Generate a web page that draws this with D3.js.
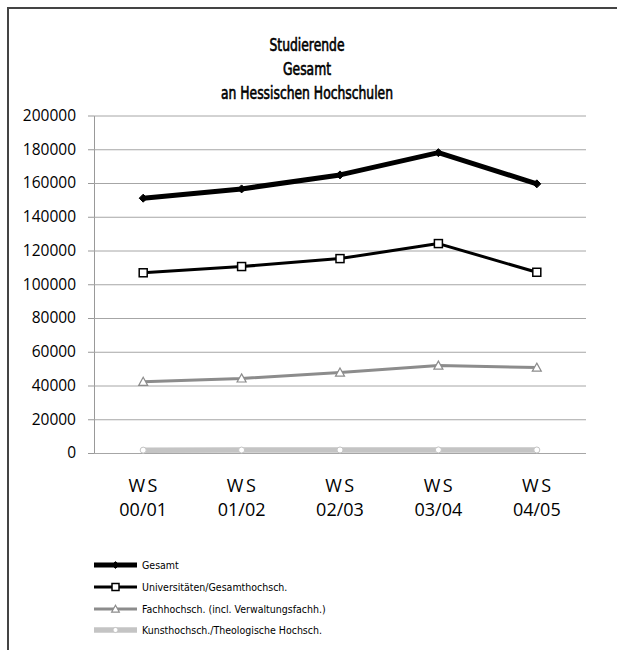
<!DOCTYPE html>
<html>
<head>
<meta charset="utf-8">
<script src="https://cdn.jsdelivr.net/npm/d3@7"></script>
<style>
  html, body { margin: 0; padding: 0; background: #fff; }
  svg { display: block; }
</style>
</head>
<body>
<svg id="chart" width="617" height="650"></svg>
<script>
// ---- Data ----
const titleLines = ["Studierende", "Gesamt", "an Hessischen Hochschulen"];
const categories = ["WS 00/01", "WS 01/02", "WS 02/03", "WS 03/04", "WS 04/05"];
const yTicks = [0, 20000, 40000, 60000, 80000, 100000, 120000, 140000, 160000, 180000, 200000];
const seriesNames = ["Gesamt", "Universitäten/Gesamthochsch.", "Fachhochsch. (incl. Verwaltungsfachh.)", "Kunsthochsch./Theologische Hochsch."];
const gesamt = [151000, 156500, 164800, 178000, 159500];
const universitaeten = [106800, 110500, 115200, 124100, 107100];
const fachhochschulen = [42200, 44200, 47700, 51800, 50600];
const kunsthochschulen = [1700, 1750, 1800, 1850, 1800];

// ---- Styles ----
const styles = [
  { color: "#000", width: 5, marker: "diamond", size: 4, fill: "#000", stroke: "#000" },
  { color: "#000", width: 3, marker: "square", size: 4, fill: "#fff", stroke: "#000" },
  { color: "#8c8c8c", width: 3, marker: "triangle", size: 4.5, fill: "#fff", stroke: "#8c8c8c" },
  { color: "#c4c4c4", width: 5.5, marker: "circle", size: 3, fill: "#fff", stroke: "#c4c4c4" }
];
const seriesValues = [gesamt, universitaeten, fachhochschulen, kunsthochschulen];

const svg = d3.select("#chart");

// Frame
svg.append("line").attr("x1", 7).attr("x2", 617).attr("y1", 8).attr("y2", 8)
  .attr("stroke", "#444").attr("stroke-width", 2);
svg.append("line").attr("x1", 8).attr("x2", 8).attr("y1", 7).attr("y2", 650)
  .attr("stroke", "#444").attr("stroke-width", 2);

// Title
const titleG = svg.append("g");
const titleTexts = titleLines.map((t, i) => titleG.append("text")
  .attr("text-anchor", "middle")
  .attr("x", 307).attr("y", 51 + i * 24)
  .attr("font-family", "'DejaVu Sans Condensed', 'DejaVu Sans', sans-serif")
  .attr("font-size", 17)
  .attr("fill", "#000")
  .attr("stroke", "#000")
  .attr("stroke-width", 0.6)
  .text(t));
// narrow the title to the reference width
const refW = titleTexts[2].node().getComputedTextLength();
const factor = 172 / refW;
titleTexts.forEach(tx => {
  const w = tx.node().getComputedTextLength();
  tx.attr("textLength", w * factor).attr("lengthAdjust", "spacingAndGlyphs");
});

// Scales
const x = d3.scalePoint().domain(categories).range([94, 586]).padding(0.5);
const y = d3.scaleLinear().domain([0, 200000]).range([453, 115.5]);

// Grid + y axis
const yAxis = d3.axisLeft(y).tickValues(yTicks).tickSize(6).tickSizeOuter(0).tickFormat(d3.format("d"));
const gy = svg.append("g").attr("transform", "translate(94,0)").call(yAxis);
gy.select(".domain").attr("stroke", "#999");
gy.selectAll(".tick line").attr("stroke", "#999");
gy.selectAll(".tick text")
  .attr("font-family", "'Open Sans', sans-serif")
  .attr("font-size", 15.5)
  .attr("fill", "#000")
  .attr("x", -18);
gy.selectAll(".tick").append("line")
  .attr("x1", 0).attr("x2", 492)
  .attr("stroke", "#a6a6a6").attr("stroke-width", 1);

// X axis labels (two lines)
const gx = svg.append("g");
categories.forEach(c => {
  const parts = c.split(" ");
  const t = gx.append("text")
    .attr("text-anchor", "middle")
    .attr("font-family", "'Open Sans', sans-serif")
    .attr("font-size", 18)
    .attr("fill", "#000");
  t.append("tspan").attr("x", x(c) + 1).attr("y", 492).attr("letter-spacing", 2.5).text(parts[0]);
  t.append("tspan").attr("x", x(c)).attr("y", 516).text(parts[1]);
});

// Markers
function drawMarker(g, type, cx, cy, s, fill, stroke) {
  if (type === "diamond") {
    g.append("path").attr("d", `M${cx},${cy - s}L${cx + s},${cy}L${cx},${cy + s}L${cx - s},${cy}Z`)
      .attr("fill", fill).attr("stroke", stroke);
  } else if (type === "square") {
    g.append("rect").attr("x", cx - s).attr("y", cy - s).attr("width", 2 * s).attr("height", 2 * s)
      .attr("fill", fill).attr("stroke", stroke).attr("stroke-width", 1.5);
  } else if (type === "triangle") {
    g.append("path").attr("d", `M${cx},${cy - s}L${cx + s},${cy + s * 0.8}L${cx - s},${cy + s * 0.8}Z`)
      .attr("fill", fill).attr("stroke", stroke).attr("stroke-width", 1.2);
  } else {
    g.append("circle").attr("cx", cx).attr("cy", cy).attr("r", s)
      .attr("fill", fill).attr("stroke", stroke).attr("stroke-width", 1);
  }
}

// Lines (draw from back to front)
const line = d3.line().x((d, i) => x(categories[i])).y(d => y(d));
for (let k = seriesValues.length - 1; k >= 0; k--) {
  const st = styles[k];
  const g = svg.append("g");
  g.append("path").datum(seriesValues[k]).attr("d", line)
    .attr("fill", "none").attr("stroke", st.color).attr("stroke-width", st.width)
    .attr("stroke-linejoin", "round");
  seriesValues[k].forEach((v, i) => drawMarker(g, st.marker, x(categories[i]), y(v), st.size, st.fill, st.stroke));
}

// Legend
const legendY = [565, 587, 609, 630];
seriesNames.forEach((name, k) => {
  const st = styles[k];
  const g = svg.append("g");
  const ly = legendY[k];
  g.append("line").attr("x1", 94).attr("x2", 137).attr("y1", ly).attr("y2", ly)
    .attr("stroke", st.color).attr("stroke-width", st.width);
  drawMarker(g, st.marker, 115.5, ly, k === 1 ? 3.5 : st.size * 0.85, st.fill, st.stroke);
  g.append("text").attr("x", 142).attr("y", ly + 4)
    .attr("font-family", "'DejaVu Sans Condensed', 'DejaVu Sans', sans-serif")
    .attr("font-size", 10.5).attr("fill", "#000").text(name);
});
</script>
</body>
</html>
